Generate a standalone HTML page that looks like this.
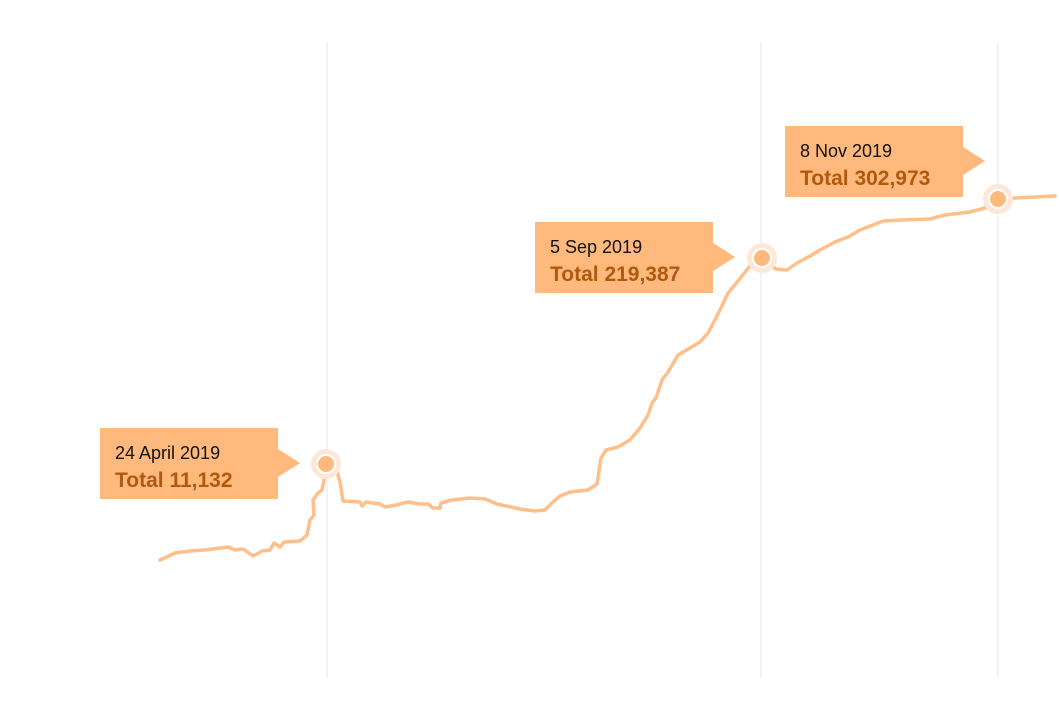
<!DOCTYPE html>
<html><head><meta charset="utf-8"><style>
body{margin:0;background:#fff}
svg{display:block;font-family:"Liberation Sans",sans-serif}
</style></head><body>
<svg id="chart" width="1059" height="726" viewBox="0 0 1059 726">
<g id="grid"></g>
<path id="line" fill="none" stroke="#ffbf8a" stroke-width="3.5" stroke-linejoin="round" stroke-linecap="round"></path>
<g id="notes"></g>
</svg>
<script>
// days since series start, and cumulative index values
const days=[0,15,30,45,68,75,83,93,102,110,114,120,124,140,147,150,154,153,158,162,165,166,176,180,183,200,202,206,220,225,236,248,260,268,273,280,281,292,310,325,337,360,375,385,393,400,410,428,437,441,446,458,470,480,488,492,496,502,508,518,530,540,548,560,568,578,590,602,616,627,637,650,660,675,688,700,723,740,770,785,810,825,838,895];
const values=[40,47,49,50,53,50,51,44,49,50,57,53,58,59,65,80,85,100,107,110,125,136,132,118,99,98,94,98,96,93,95,98,96,96,92,92,97,100,102,101,96,91,89,90,98,104,108,110,116,142,150,153,160,172,185,197,202,220,228,245,252,258,267,290,307,319,334,342,331,330,337,344,350,358,363,370,379,380,381,385,388,392,401,404];
const noteIdx=[21,67,82];
const noteDates=["24 April 2019","5 Sep 2019","8 Nov 2019"];
const noteTotals=["Total 11,132","Total 219,387","Total 302,973"];
const gridDays=[167,601,838];
const NS="http://www.w3.org/2000/svg";
const xS=d=>160+d;
const yS=v=>600-v;
const boxOffset=[226,227,213];
const grid=document.getElementById('grid');
gridDays.forEach((d,i)=>{
  const l=document.createElementNS(NS,'line');
  
  
  l.setAttribute('x1',xS(d));l.setAttribute('x2',xS(d));l.setAttribute('y1',42);l.setAttribute('y2',678);
  l.setAttribute('stroke','#ebe6e2');l.setAttribute('stroke-width','1');
  grid.appendChild(l);
});
document.getElementById('line').setAttribute('d',days.map((d,i)=>(i?'L':'M')+xS(d)+','+yS(values[i])).join(''));
const notes=document.getElementById('notes');
noteIdx.forEach((k,i)=>{
  const cx=xS(days[k]),cy=yS(values[k]);
  const g=document.createElementNS(NS,'g');
  
  
  const bx=cx-boxOffset[i],by=(i==2?126:cy-36);
  const ay=by+35;
  const p=document.createElementNS(NS,'path');
  
  
  p.setAttribute('d',`M${bx},${by}H${bx+178}V${ay-14}L${bx+200},${ay}L${bx+178},${ay+14}V${by+71}H${bx}Z`);
  p.setAttribute('fill','#ffb97c');
  g.appendChild(p);
  const t1=document.createElementNS(NS,'text');
  
  
  t1.setAttribute('x',bx+15);t1.setAttribute('y',by+31);t1.setAttribute('font-size','18');t1.setAttribute('fill','#111');
  t1.textContent=noteDates[i];g.appendChild(t1);
  const t2=document.createElementNS(NS,'text');
  
  
  t2.setAttribute('x',bx+15);t2.setAttribute('y',by+59);t2.setAttribute('font-size','21');t2.setAttribute('font-weight','bold');t2.setAttribute('fill','#b05a10');
  t2.textContent=noteTotals[i];g.appendChild(t2);
  const h=document.createElementNS(NS,'circle');
  
  
  h.setAttribute('cx',cx);h.setAttribute('cy',cy);h.setAttribute('r',15);h.setAttribute('fill','#fde7d8');
  g.appendChild(h);
  const c=document.createElementNS(NS,'circle');
  
  
  c.setAttribute('cx',cx);c.setAttribute('cy',cy);c.setAttribute('r',9);c.setAttribute('fill','#ffb97c');c.setAttribute('stroke','#fff');c.setAttribute('stroke-width','2');
  g.appendChild(c);
  notes.appendChild(g);
});
</script>
</body></html>
